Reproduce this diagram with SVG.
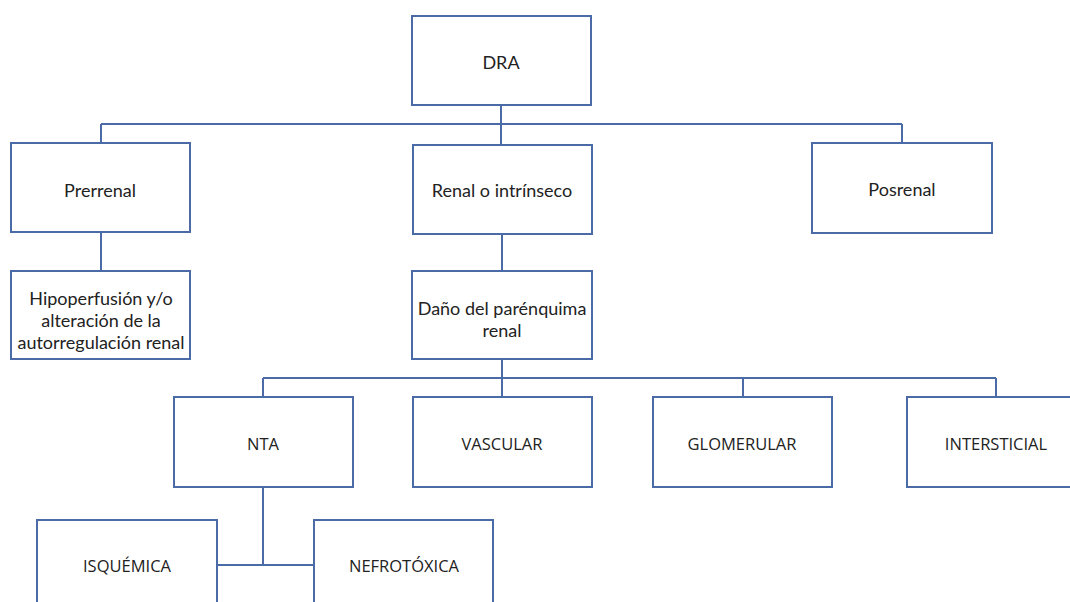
<svg xmlns="http://www.w3.org/2000/svg" width="1070" height="602" viewBox="0 0 1070 602">
<style>
.box{fill:#fff;stroke:#4a6aa8;stroke-width:2}
.ln{fill:none;stroke:#4a6aa8;stroke-width:2}
.t1{font-family:Lato,"Open Sans",sans-serif;font-size:18px;fill:#222;text-anchor:middle;dominant-baseline:central}
.t2{font-family:"Open Sans","Liberation Sans",sans-serif;font-size:16.5px;fill:#222;text-anchor:middle;dominant-baseline:central}
</style>
<rect width="1070" height="602" fill="#fff"/>
<g id="connectors">
<path class="ln" d="M501 105V144M101 124H902M101 124V143M902 124V143M101 232V271M502 234V271M502 359V397M263 378H996M263 378V397M996 378V397M743 378V397M263 487V565M217 565H314"/>
</g>
<g id="dra"><rect class="box" x="412" y="16" width="179" height="89"/><text class="t1" x="501" y="62">DRA</text></g>
<g id="prerrenal"><rect class="box" x="11" y="143" width="179" height="89"/><text class="t1" x="100" y="190">Prerrenal</text></g>
<g id="renal"><rect class="box" x="413" y="145" width="179" height="89"/><text class="t1" x="502" y="190">Renal o intrínseco</text></g>
<g id="posrenal"><rect class="box" x="812" y="143" width="180" height="90"/><text class="t1" x="902" y="189">Posrenal</text></g>
<g id="hipoperfusion"><rect class="box" x="11" y="271" width="179" height="88"/><text class="t1" x="101" y="298">Hipoperfusión y/o</text><text class="t1" x="101" y="320">alteración de la</text><text class="t1" x="101" y="342">autorregulación renal</text></g>
<g id="dano"><rect class="box" x="412" y="271" width="180" height="88"/><text class="t1" x="502" y="308">Daño del parénquima</text><text class="t1" x="502" y="330">renal</text></g>
<g id="nta"><rect class="box" x="174" y="397" width="179" height="90"/><text class="t2" x="263" y="443">NTA</text></g>
<g id="vascular"><rect class="box" x="413" y="397" width="179" height="90"/><text class="t2" x="502" y="443">VASCULAR</text></g>
<g id="glomerular"><rect class="box" x="653" y="397" width="179" height="90"/><text class="t2" x="742" y="443">GLOMERULAR</text></g>
<g id="intersticial"><rect class="box" x="907" y="397" width="180" height="90"/><text class="t2" x="996" y="443">INTERSTICIAL</text></g>
<g id="isquemica"><rect class="box" x="37" y="520" width="180" height="100"/><text class="t2" x="127" y="565">ISQUÉMICA</text></g>
<g id="nefrotoxica"><rect class="box" x="314" y="520" width="179" height="100"/><text class="t2" x="404" y="565">NEFROTÓXICA</text></g>
</svg>
